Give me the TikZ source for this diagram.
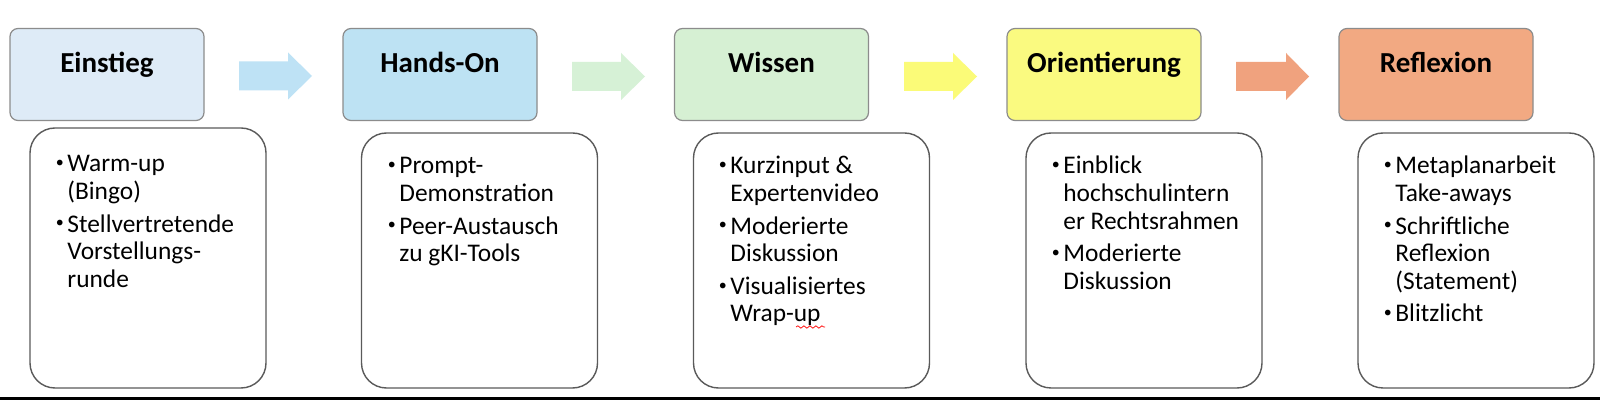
\documentclass[tikz,border=0pt]{standalone}
\usepackage{fontspec}
\setmainfont{Carlito}
\usetikzlibrary{decorations.pathmorphing}
\definecolor{fillA}{HTML}{DEEBF7}
\definecolor{fillB}{HTML}{BDE2F3}
\definecolor{fillC}{HTML}{D6F0D3}
\definecolor{fillD}{HTML}{FAFA80}
\definecolor{fillE}{HTML}{F2A982}
\definecolor{arrA}{HTML}{BEE2F5}
\definecolor{arrB}{HTML}{D6F1D6}
\definecolor{arrC}{HTML}{FBFB78}
\definecolor{arrD}{HTML}{F0A27E}
\definecolor{topline}{HTML}{8C8C8C}
\definecolor{lowline}{HTML}{5A5A5A}
\newcommand\bu{\makebox[5.5pt][l]{\hspace{-0.3pt}\raisebox{2.1pt}{\fontsize{8}{8}\selectfont •}}}
\begin{document}
\begin{tikzpicture}[x=0.5pt,y=-0.5pt,
  topbox/.style={rounded corners=4pt, draw=topline, line width=0.6pt, minimum width=97pt, minimum height=46pt, inner sep=0pt},
  ttl/.style={font=\fontsize{14.5}{17}\selectfont\bfseries, anchor=base, inner sep=0pt},
  lowbox/.style={rounded corners=12.5pt, draw=lowline, line width=0.7pt, minimum width=118pt, minimum height=127.5pt, inner sep=0pt},
  lst/.style={anchor=base west, inner sep=0pt, font=\fontsize{12.7}{13.8}\selectfont}
]
\fill[white] (0,0) rectangle (1600,400);
\useasboundingbox (0,0) rectangle (1600,400);

% top boxes
\node[topbox, fill=fillA] (t1) at (107,74.5) {};
\node[topbox, fill=fillB] (t2) at (440,74.5) {};
\node[topbox, fill=fillC] (t3) at (771.5,74.5) {};
\node[topbox, fill=fillD] (t4) at (1104,74.5) {};
\node[topbox, fill=fillE] (t5) at (1436,74.5) {};
\node[ttl] (h1) at (107,72.5) {Einstieg};
\node[ttl] (h2) at (440,72.5) {Hands-On};
\node[ttl] (h3) at (771.5,72.5) {Wissen};
\node[ttl] (h4) at (1104,72.5) {Orientierung};
\node[ttl] (h5) at (1436,72.5) {Reflexion};

% block arrows
\coordinate (ar1) at (239,76);
\coordinate (ar2) at (572,76.5);
\coordinate (ar3) at (904,76.5);
\coordinate (ar4) at (1236,76.5);
\fill[arrA] (ar1) ++(0,-14.5) -- ++(49,0) -- ++(0,-9) -- ++(24,23.5) -- ++(-24,23.5) -- ++(0,-9) -- ++(-49,0) -- cycle;
\fill[arrB] (ar2) ++(0,-14.5) -- ++(49,0) -- ++(0,-9) -- ++(24,23.5) -- ++(-24,23.5) -- ++(0,-9) -- ++(-49,0) -- cycle;
\fill[arrC] (ar3) ++(0,-14.5) -- ++(49,0) -- ++(0,-9) -- ++(24,23.5) -- ++(-24,23.5) -- ++(0,-9) -- ++(-49,0) -- cycle;
\fill[arrD] (ar4) ++(0,-14.5) -- ++(50,0) -- ++(0,-9) -- ++(23,23.5) -- ++(-23,23.5) -- ++(0,-9) -- ++(-50,0) -- cycle;

% lower boxes
\node[lowbox, minimum height=130pt] (b1) at (148,258) {};
\node[lowbox] (b2) at (479.5,260.5) {};
\node[lowbox] (b3) at (811.5,260.5) {};
\node[lowbox] (b4) at (1144,260.5) {};
\node[lowbox] (b5) at (1476,260.5) {};

\node[lst] (l1) at (56,172) {\begin{tabular}[t]{@{}l@{}l@{}}
\bu & Warm-up\\
    & (Bingo)\\[2.5pt]
\bu & Stellvertretende\\
    & Vorstellungs-\\
    & runde
\end{tabular}};
\node[lst] (l2) at (388,174) {\begin{tabular}[t]{@{}l@{}l@{}}
\bu & Prompt-\\
    & Demonstration\\[2.5pt]
\bu & Peer-Austausch\\
    & zu gKI-Tools
\end{tabular}};
\node[lst] (l3) at (719,174) {\begin{tabular}[t]{@{}l@{}l@{}}
\bu & Kurzinput \&\\
    & Expertenvideo\\[2.5pt]
\bu & Moderierte\\
    & Diskussion\\[2.5pt]
\bu & Visualisiertes\\
    & Wrap-up
\end{tabular}};
\node[lst] (l4) at (1052,174) {\begin{tabular}[t]{@{}l@{}l@{}}
\bu & Einblick\\
    & hochschulintern\\
    & er Rechtsrahmen\\[2.5pt]
\bu & Moderierte\\
    & Diskussion
\end{tabular}};
\node[lst] (l5) at (1384,174) {\begin{tabular}[t]{@{}l@{}l@{}}
\bu & Metaplanarbeit\\
    & Take-aways\\[2.5pt]
\bu & Schriftliche\\
    & Reflexion\\
    & (Statement)\\[2.5pt]
\bu & Blitzlicht
\end{tabular}};

% spell-check squiggle
\coordinate (sq1) at (796,327);
\coordinate (sq2) at (825,327);
\draw[red, line width=0.35pt, decorate, decoration={snake, amplitude=0.6pt, segment length=3pt}] (sq1) -- (sq2);

% bottom rule
\fill[black] (0,397) rectangle (1600,400);
\end{tikzpicture}
\end{document}
